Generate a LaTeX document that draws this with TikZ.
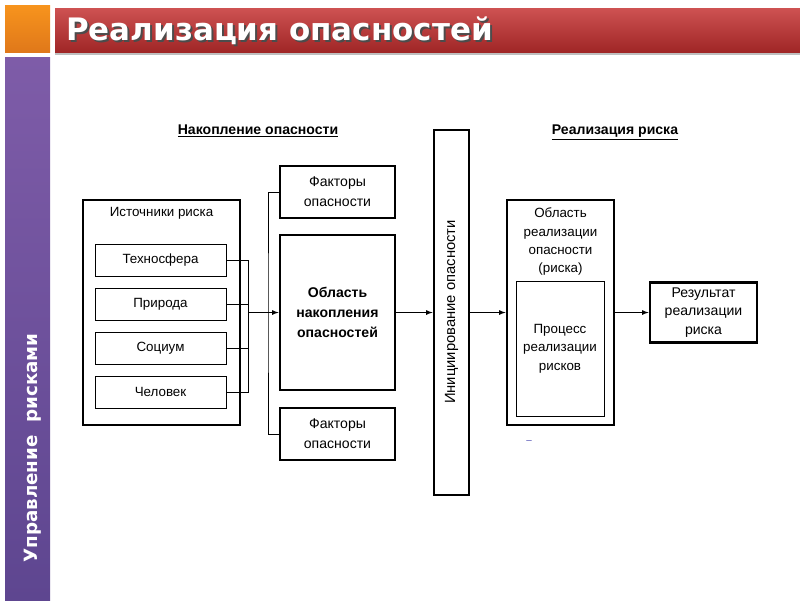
\documentclass[tikz,border=0pt]{standalone}
\usepackage{fontspec}
\setmainfont{Liberation Sans}
\newfontfamily\titlefont{DejaVu Sans}
\usetikzlibrary{shadings}
\definecolor{barred}{HTML}{C53434}
\definecolor{barreddark}{HTML}{A02626}
\definecolor{barorange}{HTML}{F7941D}
\definecolor{barorangedark}{HTML}{E0781A}
\definecolor{barpurple}{HTML}{7E5CA8}
\definecolor{barpurpledark}{HTML}{5E4690}
\tikzset{
  thinbox/.style={draw, line width=.6pt, inner sep=0pt, align=center, font=\fontsize{9.5}{13}\selectfont},
  thickbox/.style={draw, line width=2pt, inner sep=0pt, align=center},
  header/.style={anchor=base, font=\fontsize{10}{12}\selectfont\bfseries},
}
\begin{document}
\begin{tikzpicture}[x=0.025cm, y=-0.025cm, >=latex]
\useasboundingbox (0,0) rectangle (800,600);
% slide frame
\shade[top color=barorange, bottom color=barorangedark] (5,5) rectangle (50,52);
\fill[black!25] (55,52) rectangle (800,55);
\shade[top color=barred!85, bottom color=barreddark] (55,8) rectangle (800,52);
\shade[top color=barpurple, bottom color=barpurpledark] (5,57) rectangle (50,600);
\node[text=black!70, font=\titlefont\fontsize{22}{24}\selectfont\bfseries] at (281.5,33) {Реализация опасностей};
\node (title) [text=white, font=\titlefont\fontsize{22}{24}\selectfont\bfseries] at (279.5,31) {Реализация опасностей};
\node (side) [text=white, rotate=90, font=\titlefont\fontsize{13}{15}\selectfont\bfseries] at (33,448) {Управление\ \ рисками};

% headers
\node (h1) [header] at (258,134) {\underline{Накопление опасности}};
\node (h2) [header] at (615,134) {\underline{Реализация риска}};

% sources
\node (src) [thickbox, minimum width=3.925cm, minimum height=5.625cm] at (161.5,312.5) {};
\node (srct) [font=\fontsize{9.5}{12}\selectfont] at (161.5,213) {Источники риска};
\node (s1) [thinbox, minimum width=3.275cm, minimum height=.8cm] at (160.5,260) {Техносфера};
\node (s2) [thinbox, minimum width=3.275cm, minimum height=.8cm] at (160.5,304) {Природа};
\node (s3) [thinbox, minimum width=3.275cm, minimum height=.8cm] at (160.5,348) {Социум};
\node (s4) [thinbox, minimum width=3.275cm, minimum height=.8cm] at (160.5,392) {Человек};

% accumulation
\node (f1) [thinbox, line width=1.4pt, font=\fontsize{10}{14}\selectfont, minimum width=2.875cm, minimum height=1.3cm] at (337.5,192) {Факторы\\опасности};
\node (f2) [thinbox, line width=1.4pt, font=\fontsize{10}{14}\selectfont, minimum width=2.875cm, minimum height=1.3cm] at (337.5,434) {Факторы\\опасности};
\node (nak) [thickbox, font=\fontsize{10}{14}\selectfont\bfseries, minimum width=2.875cm, minimum height=3.875cm] at (337.5,312.5) {Область\\накопления\\опасностей};
\node (init) [thickbox, minimum width=.875cm, minimum height=9.125cm] at (451.5,312.5) {};
\node (initt) [rotate=90, font=\fontsize{10.5}{12}\selectfont] at (451.5,312) {Инициирование опасности};

% realization
\node (real) [thickbox, minimum width=2.675cm, minimum height=5.625cm] at (560.5,312.5) {};
\node (realt) [anchor=north, align=center, font=\fontsize{9.5}{13}\selectfont] at (560.5,203) {Область\\реализации\\опасности\\(риска)};
\node (proc) [thinbox, minimum width=2.2cm, minimum height=3.375cm] at (560,348.5) {Процесс\\реализации\\рисков};
\node (res) [thickbox, font=\fontsize{10}{13}\selectfont, minimum width=2.675cm, minimum height=1.5cm] at (703.5,312.5) {Результат\\реализации\\риска};
\node (dash) [text=blue!40!gray, font=\fontsize{7}{8}\selectfont] at (529,442) {--};

% connectors
\coordinate (jn) at (248,312.5);
\coordinate (br) at (268,312.5);
\foreach \s in {s1,s2,s3,s4}
  \draw[line width=.6pt] (\s.east) -| (jn);
\draw[->, line width=.6pt] (jn) -- (nak.west);
\draw[line width=.6pt] (f1.west) -| (br) |- (f2.west);
\draw[->, line width=.6pt] (nak.east) -- (init.west);
\draw[->, line width=.6pt] (init.east) -- (real.west);
\draw[->, line width=.6pt] (real.east) -- (res.west);
\end{tikzpicture}
\end{document}
